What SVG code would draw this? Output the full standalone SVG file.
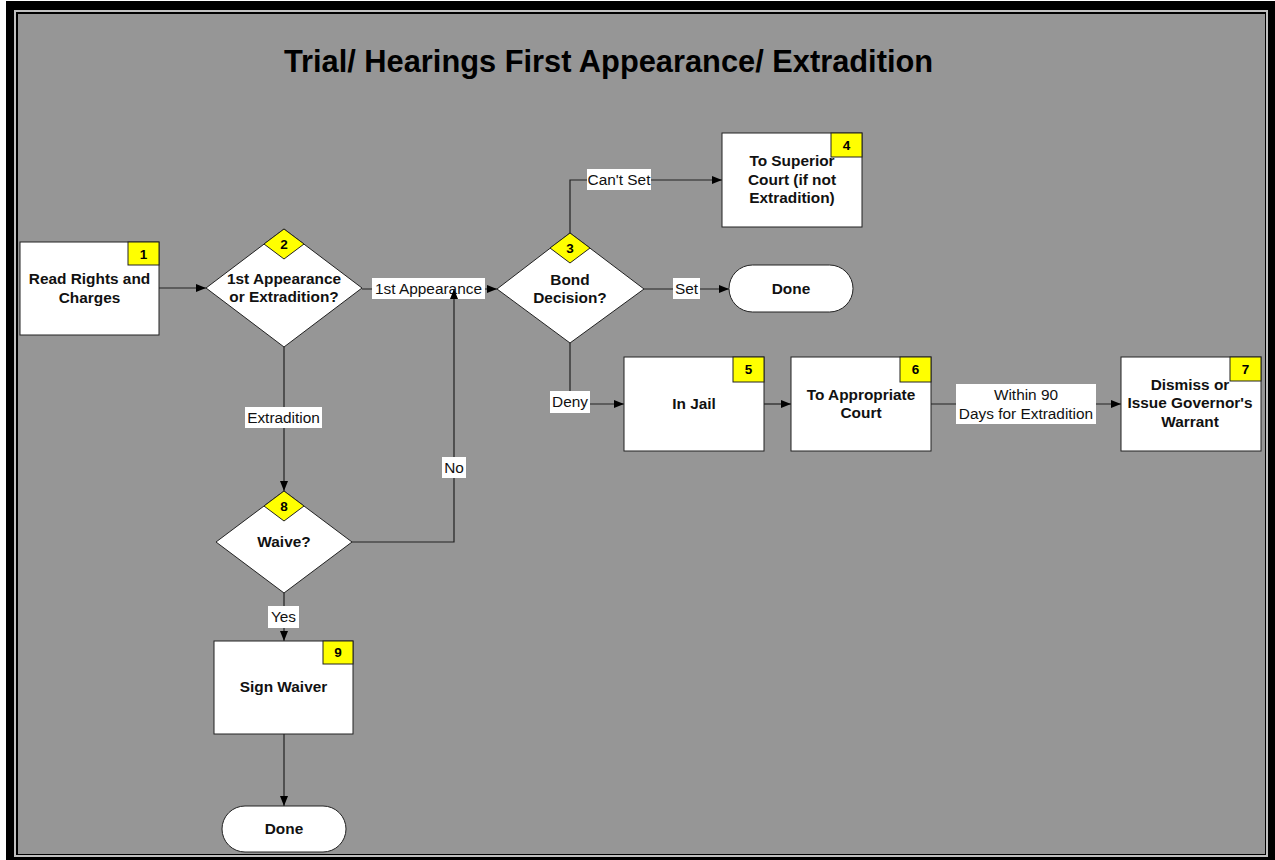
<svg xmlns="http://www.w3.org/2000/svg" width="1275" height="860" viewBox="0 0 1275 860">
<style>
.node{fill:#fff;stroke:#222;stroke-width:1}
.badge{fill:#ffff00;stroke:#222;stroke-width:1}
.bt{font-family:"Liberation Sans",Arial,sans-serif;font-size:13.5px;font-weight:bold;fill:#000;text-anchor:middle}
.nt{font-family:"Liberation Sans",Arial,sans-serif;font-size:15.4px;font-weight:bold;fill:#111;text-anchor:middle}
.line{fill:none;stroke:#222;stroke-width:1.2}
.lbox{fill:#fff;stroke:none}
.lt{font-family:"Liberation Sans",Arial,sans-serif;font-size:15.4px;fill:#111;text-anchor:middle}
.title{font-family:"Liberation Sans",Arial,sans-serif;font-size:30.8px;font-weight:bold;fill:#000;text-anchor:middle}
</style>
<defs>
<marker id="arr" markerUnits="userSpaceOnUse" markerWidth="11" markerHeight="9" refX="10" refY="4" orient="auto">
<path d="M0,0 L10,4 L0,8 z" fill="#000"/>
</marker>
</defs>
<rect x="0" y="0" width="1275" height="860" fill="#fff"/>
<rect x="6" y="1" width="1269" height="859" fill="#000"/>
<rect x="14" y="10" width="1254" height="847" fill="#c0c0c0"/>
<rect x="16" y="12" width="1250" height="843" fill="#000"/>
<rect x="18" y="14" width="1247" height="840" fill="#969696"/>
<text class="title" x="608.5" y="72">Trial/ Hearings First Appearance/ Extradition</text>

<g id="connectors">
<path class="line" d="M159,288 H206" marker-end="url(#arr)"/>
<path class="line" d="M362,289 H497" marker-end="url(#arr)"/>
<rect class="lbox" x="372" y="278" width="113" height="21"/>
<text class="lt" x="428.5" y="294">1st Appearance</text>
<path class="line" d="M570,233 V180 H722" marker-end="url(#arr)"/>
<rect class="lbox" x="587" y="169" width="64" height="21"/>
<text class="lt" x="619" y="185">Can't Set</text>
<path class="line" d="M644,289 H729" marker-end="url(#arr)"/>
<rect class="lbox" x="673" y="278" width="27" height="21"/>
<text class="lt" x="686.5" y="294">Set</text>
<path class="line" d="M570,343 V404 H624" marker-end="url(#arr)"/>
<rect class="lbox" x="550" y="391" width="40" height="22"/>
<text class="lt" x="570" y="407">Deny</text>
<path class="line" d="M764,404 H791" marker-end="url(#arr)"/>
<path class="line" d="M931,404 H1121" marker-end="url(#arr)"/>
<rect class="lbox" x="956" y="384" width="140" height="40"/>
<text class="lt" x="1026" y="400">Within 90</text>
<text class="lt" x="1026" y="419">Days for Extradition</text>
<path class="line" d="M284,347 V491" marker-end="url(#arr)"/>
<rect class="lbox" x="245" y="407" width="77" height="21"/>
<text class="lt" x="283.5" y="423">Extradition</text>
<path class="line" d="M352,542 H454 V289" marker-end="url(#arr)"/>
<rect class="lbox" x="442" y="457" width="24" height="21"/>
<text class="lt" x="454" y="473">No</text>
<path class="line" d="M284,593 V641" marker-end="url(#arr)"/>
<rect class="lbox" x="268" y="606" width="31" height="22"/>
<text class="lt" x="283.5" y="622">Yes</text>
<path class="line" d="M284,734 V806" marker-end="url(#arr)"/>
</g>

<g id="n1">
<rect class="node" x="20" y="242" width="139" height="93"/>
<rect class="badge" x="128" y="242" width="31" height="23"/>
<text class="bt" x="143.5" y="259">1</text>
<text class="nt" x="89.5" y="284">Read Rights and</text>
<text class="nt" x="89.5" y="303">Charges</text>
</g>

<g id="n2">
<polygon class="node" points="284,229 362,288 284,347 206,288"/>
<polygon class="badge" points="284,229 304,244 284,259 264,244"/>
<text class="bt" x="284" y="249">2</text>
<text class="nt" x="284" y="284">1st Appearance</text>
<text class="nt" x="284" y="302">or Extradition?</text>
</g>

<g id="n3">
<polygon class="node" points="570,233 644,289 570,343 497,289"/>
<polygon class="badge" points="570,233 590,248 570,263 550,248"/>
<text class="bt" x="570" y="253">3</text>
<text class="nt" x="570" y="285">Bond</text>
<text class="nt" x="570" y="303">Decision?</text>
</g>

<g id="n4">
<rect class="node" x="722" y="133" width="140" height="94"/>
<text class="nt" x="792" y="166">To Superior</text>
<text class="nt" x="792" y="185">Court (if not</text>
<text class="nt" x="792" y="203">Extradition)</text>
<rect class="badge" x="831" y="133" width="31" height="24"/>
<text class="bt" x="846.5" y="150">4</text>
</g>

<g id="done1">
<rect class="node" x="729" y="265" width="124" height="47" rx="23.5" ry="23.5"/>
<text class="nt" x="791" y="294">Done</text>
</g>

<g id="n5">
<rect class="node" x="624" y="357" width="140" height="94"/>
<rect class="badge" x="733" y="357" width="31" height="25"/>
<text class="bt" x="748.5" y="374">5</text>
<text class="nt" x="694" y="409">In Jail</text>
</g>

<g id="n6">
<rect class="node" x="791" y="357" width="140" height="94"/>
<rect class="badge" x="900" y="357" width="31" height="25"/>
<text class="bt" x="915.5" y="374">6</text>
<text class="nt" x="861" y="400">To Appropriate</text>
<text class="nt" x="861" y="418">Court</text>
</g>

<g id="n7">
<rect class="node" x="1121" y="357" width="140" height="94"/>
<text class="nt" x="1190" y="390">Dismiss or</text>
<text class="nt" x="1190" y="408">Issue Governor's</text>
<text class="nt" x="1190" y="427">Warrant</text>
<rect class="badge" x="1230" y="357" width="31" height="24"/>
<text class="bt" x="1245.5" y="374">7</text>
</g>

<g id="n8">
<polygon class="node" points="284,491 352,542 284,593 216,542"/>
<polygon class="badge" points="284,491 304,506 284,521 264,506"/>
<text class="bt" x="284" y="511">8</text>
<text class="nt" x="284" y="547">Waive?</text>
</g>

<g id="n9">
<rect class="node" x="214" y="641" width="139" height="93"/>
<rect class="badge" x="323" y="641" width="30" height="23"/>
<text class="bt" x="338" y="657">9</text>
<text class="nt" x="283.5" y="692">Sign Waiver</text>
</g>

<g id="done2">
<rect class="node" x="222" y="806" width="124" height="46" rx="23" ry="23"/>
<text class="nt" x="284" y="834">Done</text>
</g>
</svg>
